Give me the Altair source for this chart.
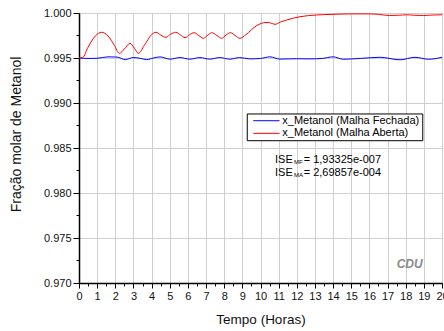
import altair as alt
import pandas as pd

# ---- data ----
red_x = [0, 0.2, 0.5, 0.9, 1.25, 1.6, 1.95, 2.22, 2.5, 2.81, 3.05, 3.27, 3.6, 4.0, 4.24,
         4.5, 4.79, 5.05, 5.34, 5.6, 5.84, 6.1, 6.34, 6.6, 6.85, 7.1, 7.31, 7.6, 7.86,
         8.1, 8.36, 8.6, 8.87, 9.2, 9.79, 10.3, 10.55, 10.8, 11.1, 11.44, 12.18, 13.1,
         14.0, 15.0, 16.0, 16.5, 17.1, 17.6, 18.05, 18.5, 18.97, 19.5, 20]
red_y = [0.99500, 0.99505, 0.99620, 0.99745, 0.99786, 0.99745, 0.99640, 0.99552, 0.99600,
         0.99663, 0.99610, 0.99552, 0.99640, 0.99760, 0.99786, 0.99755, 0.99730, 0.99765,
         0.99786, 0.99755, 0.99726, 0.99760, 0.99781, 0.99750, 0.99719, 0.99755, 0.99781,
         0.99750, 0.99719, 0.99755, 0.99781, 0.99750, 0.99719, 0.99760, 0.99860, 0.99895,
         0.99890, 0.99874, 0.99900, 0.99922, 0.99959, 0.99978, 0.99985, 0.99990, 0.99990,
         0.99985, 0.99972, 0.99975, 0.99980, 0.99975, 0.99972, 0.99978, 0.99980]
blue_x = [0, 0.5, 1.0, 1.6, 2.1, 2.55, 2.99, 3.4, 3.73, 4.1, 4.46, 5.01, 5.56, 6.1, 6.66,
          7.2, 7.75, 8.3, 8.85, 9.4, 10.0, 10.52, 11.07, 12.0, 12.73, 13.4, 14.0, 14.56,
          15.5, 16.58, 17.69, 18.51, 19.25, 20]
blue_y = [0.99500, 0.99495, 0.99497, 0.99513, 0.99510, 0.99482, 0.99506, 0.99495, 0.99482,
          0.99500, 0.99512, 0.99487, 0.99505, 0.99487, 0.99505, 0.99487, 0.99505, 0.99487,
          0.99505, 0.99490, 0.99495, 0.99513, 0.99488, 0.99492, 0.99490, 0.99495, 0.99513,
          0.99486, 0.99495, 0.99508, 0.99480, 0.99508, 0.99486, 0.99508]

series_names = ["x_Metanol (Malha Fechada)", "x_Metanol (Malha Aberta)"]
series_colors = ["#0000ff", "#ff0000"]

x_ticks = [i * 0.5 for i in range(41)]
y_ticks = [round(0.97 + i * 0.0025, 4) for i in range(13)]

# legend box / entries (data coordinates)
legend_box_x = [9.27]
legend_box_x2 = [18.94]
legend_box_y = [0.98878]
legend_box_y2 = [0.98581]
legend_line_x = [9.6, 9.6]
legend_line_x2 = [11.05, 11.05]
legend_row_y = [0.98803, 0.98663]
legend_text_x = [11.2, 11.2]

# ISE annotation
ise_text = ["ISE", "MF", "= 1,93325e-007", "ISE", "MA", "= 2,69857e-004"]
ise_x = [10.8, 11.85, 12.38, 10.8, 11.85, 12.38]
ise_y = [0.98337, 0.98326, 0.98337, 0.98189, 0.98178, 0.98189]
ise_size = [11, 6, 11, 11, 6, 11]

cdu_text = ["CDU"]
cdu_x = [17.5]
cdu_y = [0.97167]

# ---- build ----
df = pd.concat([
    pd.DataFrame({"t": blue_x, "v": blue_y, "s": series_names[0]}),
    pd.DataFrame({"t": red_x, "v": red_y, "s": series_names[1]}),
])

FONT = "Liberation Sans"
xs = alt.Scale(domain=[0, 20], nice=False, zero=False)
ys = alt.Scale(domain=[0.97, 1.0], nice=False, zero=False)
cs = alt.Scale(domain=series_names, range=series_colors)

Y_MAJ = "abs(datum.value*200 - round(datum.value*200)) < 0.001"
x_axis = alt.Axis(
    values=x_ticks,
    title="Tempo (Horas)",
    titleFontSize=13.5,
    labelExpr="datum.value % 1 === 0 ? format(datum.value, 'd') : ''",
    labelOverlap=False, labelFlush=False,
    tickSize={"condition": {"test": "datum.value % 1 === 0", "value": 5}, "value": 3},
    gridOpacity={"condition": {"test": "datum.value % 1 === 0", "value": 1}, "value": 0},
    labelPadding=2, titlePadding=11,
)
y_axis = alt.Axis(
    values=y_ticks,
    title="Fração molar de Metanol",
    titleFontSize=14,
    titleX=-62.5, titleY=121, titleBaseline="middle",
    labelExpr=Y_MAJ + " ? format(datum.value, '.3f') : ''",
    labelOverlap=False, labelFlush=False,
    tickSize={"condition": {"test": Y_MAJ, "value": 6}, "value": 3},
    gridOpacity={"condition": {"test": Y_MAJ, "value": 1}, "value": 0},
    labelPadding=2,
)


def X(field):
    return alt.X(field, type="quantitative", scale=xs, axis=x_axis)


def Y(field):
    return alt.Y(field, type="quantitative", scale=ys, axis=y_axis)


lines = alt.Chart(df).mark_line(strokeWidth=1, interpolate="monotone").encode(
    x=X("t"), y=Y("v"),
    color=alt.Color("s:N", scale=cs, legend=None),
    detail="s:N",
    order="t:Q",
)

box = alt.Chart(pd.DataFrame({"x": legend_box_x, "x2": legend_box_x2,
                              "y": legend_box_y, "y2": legend_box_y2})).mark_rect(
    fill="white", stroke="black", strokeWidth=1).encode(
    x=X("x"), x2="x2:Q", y=Y("y"), y2="y2:Q")

leg_lines = alt.Chart(pd.DataFrame({"x": legend_line_x, "x2": legend_line_x2,
                                    "y": legend_row_y, "s": series_names})).mark_rule(
    strokeWidth=1).encode(
    x=X("x"), x2="x2:Q", y=Y("y"),
    color=alt.Color("s:N", scale=cs, legend=None))

leg_text = alt.Chart(pd.DataFrame({"x": legend_text_x, "y": legend_row_y,
                                   "s": series_names})).mark_text(
    align="left", baseline="middle", font=FONT, fontSize=11, color="black").encode(
    x=X("x"), y=Y("y"), text="s:N")

ise = alt.Chart(pd.DataFrame({"x": ise_x, "y": ise_y, "txt": ise_text,
                              "fs": ise_size})).mark_text(
    align="left", baseline="alphabetic", font=FONT, color="black").encode(
    x=X("x"), y=Y("y"), text="txt:N",
    size=alt.Size("fs:Q", scale=None, legend=None))

cdu = alt.Chart(pd.DataFrame({"x": cdu_x, "y": cdu_y, "txt": cdu_text})).mark_text(
    align="left", baseline="alphabetic", font=FONT, fontSize=12, fontStyle="italic",
    fontWeight="bold", color="#8a8a8a").encode(
    x=X("x"), y=Y("y"), text="txt:N")

chart = alt.layer(lines, box, leg_lines, leg_text, ise, cdu).properties(
    width=363, height=270,
    autosize=alt.AutoSizeParams(type="none"),
    padding={"left": 79, "top": 13, "right": 2, "bottom": 48},
    background="white",
).configure_view(stroke="black", strokeWidth=1).configure_axis(
    labelFont=FONT, labelFontSize=11, labelColor="#111",
    titleFont=FONT, titleFontWeight="normal", titleColor="#111",
    domainColor="black", domainWidth=1.5, tickColor="black", tickWidth=1,
    gridColor="#cfcfcf", gridWidth=1,
)

chart.save("out.html", embed_options={"renderer": "svg", "actions": False})
